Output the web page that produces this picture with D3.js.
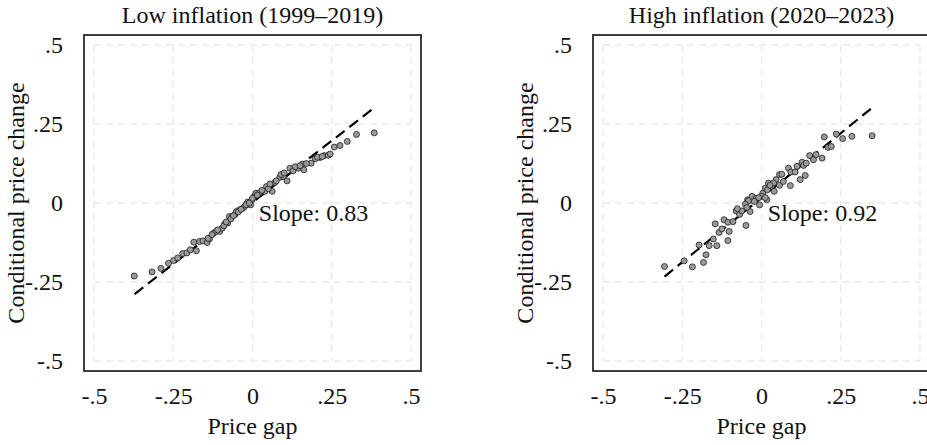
<!DOCTYPE html>
<html>
<head>
<meta charset="utf-8">
<script src="https://cdn.jsdelivr.net/npm/d3@7"></script>
<style>
  body { margin: 0; background: #fff; }
  svg text { font-family: "Liberation Serif", "DejaVu Serif", serif; fill: #111; }
</style>
</head>
<body>
<svg width="927" height="445"></svg>
<script>
// Binned scatter, low inflation period
var lowX = [-0.373, -0.317, -0.289, -0.265, -0.249, -0.236, -0.220, -0.207, -0.196, -0.177,
  -0.185, -0.167, -0.156, -0.143, -0.136, -0.123, -0.115, -0.104, -0.096, -0.088,
  -0.078, -0.073, -0.064, -0.055, -0.051, -0.041, -0.031, -0.025, -0.015, -0.006,
  -0.002, 0.006, 0.011, 0.023, 0.039, 0.044, 0.062, 0.070, 0.086, 0.097,
  0.109, 0.118, 0.128, 0.144, 0.157, 0.162, 0.185, 0.198, 0.213, 0.226,
  0.239, 0.258, 0.276, 0.299, 0.328, 0.384,
  -0.140, -0.128, -0.110, -0.090, -0.083, -0.068, -0.060, -0.045, -0.036, -0.020,
  -0.010, 0.000, 0.015, 0.030, 0.050, 0.055, 0.075, 0.090, 0.100, 0.135,
  0.150, 0.170, 0.205, 0.220, 0.245];
var lowY = [-0.231, -0.218, -0.207, -0.191, -0.182, -0.174, -0.160, -0.158, -0.148, -0.151,
  -0.124, -0.122, -0.120, -0.125, -0.114, -0.096, -0.090, -0.090, -0.080, -0.067,
  -0.063, -0.043, -0.043, -0.036, -0.027, -0.022, -0.017, -0.011, 0.003, -0.006,
  0.010, 0.021, 0.031, 0.033, 0.037, 0.052, 0.037, 0.065, 0.081, 0.084,
  0.070, 0.110, 0.102, 0.110, 0.123, 0.105, 0.126, 0.140, 0.144, 0.150,
  0.151, 0.177, 0.182, 0.195, 0.217, 0.222,
  -0.112, -0.100, -0.085, -0.072, -0.060, -0.050, -0.040, -0.028, -0.020, -0.005,
  0.000, 0.015, 0.025, 0.040, 0.045, 0.060, 0.070, 0.090, 0.095, 0.115,
  0.118, 0.125, 0.145, 0.147, 0.155];

// Binned scatter, high inflation period
var highX = [-0.306, -0.244, -0.218, -0.183, -0.175, -0.197, -0.165, -0.141, -0.152, -0.106,
  -0.134, -0.125, -0.102, -0.146, -0.118, -0.106, -0.090, -0.049, -0.080, -0.069,
  -0.062, -0.044, -0.036, -0.030, -0.017, -0.006, 0.004, 0.012, 0.017, 0.022,
  0.031, 0.040, 0.046, 0.057, 0.038, 0.057, 0.069, 0.064, 0.085, 0.091,
  0.093, 0.106, 0.112, 0.122, 0.128, 0.133, 0.138, 0.141, 0.152, 0.164,
  0.172, 0.191, 0.210, 0.220, 0.198, 0.236, 0.256, 0.285, 0.349, 0.001,
  -0.009, 0.012, 0.019, 0.027, -0.023, -0.041, -0.051, -0.046, -0.076];
var highY = [-0.201, -0.183, -0.202, -0.188, -0.164, -0.133, -0.135, -0.135, -0.114, -0.119,
  -0.093, -0.082, -0.090, -0.066, -0.053, -0.061, -0.059, -0.071, -0.025, -0.036,
  -0.025, 0.010, -0.027, 0.021, 0.015, -0.006, 0.031, 0.047, 0.010, 0.063,
  0.052, 0.037, 0.074, 0.056, 0.063, 0.090, 0.068, 0.091, 0.110, 0.055,
  0.098, 0.098, 0.116, 0.074, 0.129, 0.119, 0.087, 0.126, 0.150, 0.137,
  0.153, 0.142, 0.176, 0.179, 0.209, 0.218, 0.204, 0.211, 0.213, 0.021,
  0.017, 0.017, 0.042, 0.056, 0.005, 0.007, -0.004, -0.014, -0.018];

// fitted line end points [x0, y0, x1, y1]
var lowFit = [-0.372, -0.288, 0.381, 0.299];
var highFit = [-0.306, -0.233, 0.346, 0.299];

var titles = ["Low inflation (1999\u20132019)", "High inflation (2020\u20132023)"];
var slopeLabels = ["Slope: 0.83", "Slope: 0.92"];
var tickVals = [-0.5, -0.25, 0, 0.25, 0.5];
var tickLabels = ["-.5", "-.25", "0", ".25", ".5"];

var svg = d3.select("svg");
var fontSize = 24;

var panels = [
  { left: 84, title: titles[0], slope: slopeLabels[0], xs: lowX, ys: lowY, fit: lowFit },
  { left: 593, title: titles[1], slope: slopeLabels[1], xs: highX, ys: highY, fit: highFit }
];

var boxW = 337, boxTop = 35, boxH = 336, pad = 10;

var fmt = function (d) { return tickLabels[tickVals.indexOf(d)]; };

panels.forEach(function (p) {
  var g = svg.append("g");

  var x = d3.scaleLinear().domain([-0.5, 0.5])
    .range([p.left + pad, p.left + boxW - pad]);
  var y = d3.scaleLinear().domain([-0.5, 0.5])
    .range([boxTop + boxH - pad, boxTop + pad]);

  // grid
  g.selectAll(".vgrid").data(tickVals).enter().append("line")
    .attr("x1", function (d) { return x(d); }).attr("x2", function (d) { return x(d); })
    .attr("y1", boxTop + pad).attr("y2", boxTop + boxH - pad)
    .attr("stroke", "#e9e9e9").attr("stroke-width", 1.3).attr("stroke-dasharray", "7,5");
  g.selectAll(".hgrid").data(tickVals).enter().append("line")
    .attr("y1", function (d) { return y(d); }).attr("y2", function (d) { return y(d); })
    .attr("x1", p.left + pad).attr("x2", p.left + boxW - pad)
    .attr("stroke", "#e9e9e9").attr("stroke-width", 1.3).attr("stroke-dasharray", "7,5");

  // box
  g.append("rect")
    .attr("x", p.left).attr("y", boxTop)
    .attr("width", boxW).attr("height", boxH)
    .attr("fill", "none").attr("stroke", "#2a2a2a").attr("stroke-width", 1.8);

  // axes labels via d3 axes
  var xAxis = g.append("g")
    .attr("transform", "translate(0," + (boxTop + boxH) + ")")
    .call(d3.axisBottom(x).tickValues(tickVals).tickSize(0).tickPadding(16).tickFormat(fmt));
  var yAxis = g.append("g")
    .attr("transform", "translate(" + p.left + ",0)")
    .call(d3.axisLeft(y).tickValues(tickVals).tickSize(0).tickPadding(21).tickFormat(fmt));
  [xAxis, yAxis].forEach(function (a) {
    a.select(".domain").remove();
    a.selectAll("text").attr("font-family", null).attr("font-size", fontSize).attr("fill", "#111");
  });

  // fitted line
  g.append("line")
    .attr("x1", x(p.fit[0])).attr("y1", y(p.fit[1]))
    .attr("x2", x(p.fit[2])).attr("y2", y(p.fit[3]))
    .attr("stroke", "#000").attr("stroke-width", 2.2).attr("stroke-dasharray", "11,6");

  // points
  g.selectAll("circle").data(p.xs).enter().append("circle")
    .attr("cx", function (d) { return x(d); })
    .attr("cy", function (d, i) { return y(p.ys[i]); })
    .attr("r", 3)
    .attr("fill", "#9a9a9a").attr("stroke", "#1e1e1e").attr("stroke-width", 0.8);

  // slope annotation
  g.append("text").attr("x", x(0.02)).attr("y", 221)
    .attr("font-size", fontSize).text(p.slope);

  // title
  g.append("text").attr("x", x(0)).attr("y", 23)
    .attr("text-anchor", "middle").attr("font-size", fontSize).text(p.title);

  // axis titles
  g.append("text").attr("x", x(0)).attr("y", 434)
    .attr("text-anchor", "middle").attr("font-size", fontSize).text("Price gap");
  g.append("text")
    .attr("transform", "translate(" + (p.left - 60) + "," + (boxTop + boxH / 2) + ") rotate(-90)")
    .attr("text-anchor", "middle").attr("font-size", fontSize).text("Conditional price change");
});
</script>
</body>
</html>
